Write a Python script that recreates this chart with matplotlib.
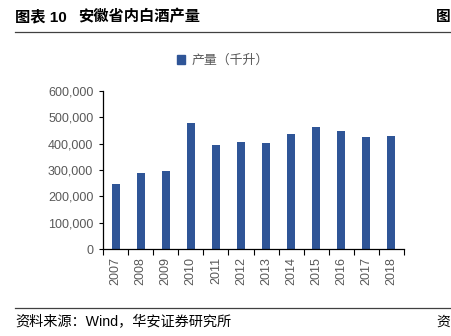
import matplotlib
matplotlib.use("Agg")
import matplotlib.pyplot as plt
from matplotlib.lines import Line2D
from matplotlib.patches import Patch

plt.rcParams['font.family'] = ['Liberation Sans', 'Noto Sans CJK SC', 'DejaVu Sans']

# --- data ---
years = ['2007', '2008', '2009', '2010', '2011', '2012',
         '2013', '2014', '2015', '2016', '2017', '2018']
output_kl = [245000, 290000, 297000, 478000, 394000, 406000,
             401000, 435000, 463000, 447000, 425000, 430000]
y_ticks = [0, 100000, 200000, 300000, 400000, 500000, 600000]

title_no = '图表 10'
title = '安徽省内白酒产量'
series_name = '产量（千升）'
source = '资料来源：Wind，华安证券研究所'

bar_color = '#2F5597'
grey = '#595959'

W, H = 451, 336
fig = plt.figure(figsize=(W / 100, H / 100), dpi=100)

# axes placed to match the pixel layout of the reference
ax = fig.add_axes([103 / W, 1 - 249 / H, 301 / W, 158 / H])
x = list(range(len(years)))
ax.bar(x, output_kl, width=0.32, color=bar_color, label=series_name)

ax.set_xlim(-0.5, len(years) - 0.5)
ax.set_ylim(0, 600000)
ax.set_yticks(y_ticks)
ax.set_yticklabels([f'{v:,}' for v in y_ticks], color=grey, fontsize=9)
ax.tick_params(axis='y', length=3, width=0.8, pad=4)

ax.set_xticks(x)
ax.set_xticklabels(years, rotation=90, color=grey, fontsize=9)
ax.tick_params(axis='x', which='major', length=0, pad=6)
ax.set_xticks([i - 0.5 for i in range(len(years) + 1)], minor=True)
ax.tick_params(axis='x', which='minor', length=4, width=0.8, direction='out')

for side in ['top', 'right']:
    ax.spines[side].set_visible(False)
for side in ['left', 'bottom']:
    ax.spines[side].set_linewidth(0.9)
    ax.spines[side].set_color('black')

leg = ax.legend(handles=[Patch(color=bar_color, label=series_name)],
                loc='center', bbox_to_anchor=(223 / W, 1 - 61 / H),
                bbox_transform=fig.transFigure, frameon=False,
                handlelength=0.65, handleheight=0.65, handletextpad=0.5,
                fontsize=9.3)
for t in leg.get_texts():
    t.set_color(grey)

# header / footer
fig.text(15 / W, 1 - 17 / H, title_no, fontsize=11, fontweight='bold',
         va='center', ha='left', color='black')
fig.text(78 / W, 1 - 17 / H, title, fontsize=11, fontweight='bold',
         va='center', ha='left', color='black')
fig.text(436 / W, 1 - 17 / H, '图', fontsize=10.5, fontweight='bold',
         va='center', ha='left', color='black')
fig.add_artist(Line2D([15 / W, 1], [1 - 32 / H] * 2, color='#404040', linewidth=0.9))
fig.add_artist(Line2D([15 / W, 1], [1 - 308 / H] * 2, color='#404040', linewidth=0.9))
fig.text(15 / W, 1 - 322 / H, source, fontsize=10.2, va='center', ha='left', color='black')
fig.text(436 / W, 1 - 322 / H, '资', fontsize=10, va='center', ha='left', color='black')

fig.savefig('out.png', dpi=100)
